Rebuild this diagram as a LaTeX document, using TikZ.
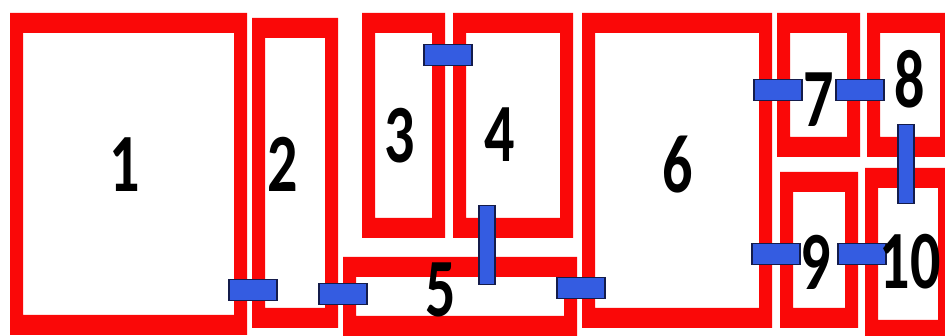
\documentclass[tikz,border=0pt]{standalone}
\usepackage{fontspec}
\setmainfont{Carlito}
\usepackage{tikz}

\definecolor{wallred}{RGB}{250,8,8}
\definecolor{doorblue}{RGB}{52,92,225}
\definecolor{doorline}{RGB}{20,28,75}

% one room: outer corner, inner corner is 13 in and 20 down
\newcommand{\drawroom}[4]{%
  \fill[wall, even odd rule] (#1,#2) rectangle (#3,#4)
    (#1+13,#2+20) rectangle (#3-13,#4-20);
}

\begin{document}
\begin{tikzpicture}[
	x=1pt, y=-1pt,
	wall/.style={fill=wallred},
	door/.style={
		rectangle, fill=doorblue,
		draw=doorline, line width=1.5pt,
		inner sep=0pt,
		minimum width=48pt, minimum height=21pt
	},
	vdoor/.style={door, minimum width=16pt, minimum height=79pt},
	lbl/.style={
		inner sep=0pt,
		font=\fontsize{60}{60}\selectfont\bfseries,
		yscale=1.38
	}
]
\clip (0,0) rectangle (945,336);
\fill[white] (0,0) rectangle (945,336);

% rooms
\drawroom{10}{13}{247}{335}
\drawroom{252}{18}{338}{328}
\drawroom{362}{13}{445}{238}
\drawroom{453}{13}{573}{238}
\drawroom{343}{257}{577}{336}
\drawroom{582}{13}{772}{328}
\drawroom{777}{13}{860}{157}
\drawroom{867}{13}{953}{157}
\drawroom{780}{172}{858}{328}
\drawroom{865}{168}{951}{340}

% doors
\node[door] (d12) at (253,290) {};
\node[door] (d25) at (343,294) {};
\node[door] (d34) at (448,55) {};
\node[vdoor] (d45) at (487,245) {};
\node[door] (d56) at (581,288) {};
\node[door] (d67) at (778,90) {};
\node[door] (d78) at (860,90) {};
\node[vdoor] (d810) at (906,164) {};
\node[door] (d69) at (776,254) {};
\node[door] (d910) at (862,254) {};

% room numbers
\node[lbl] (n1) at (125,165) {1};
\node[lbl] (n2) at (283,164) {2};
\node[lbl] (n3) at (400,136) {3};
\node[lbl] (n4) at (500,135) {4};
\node[lbl] (n5) at (441,290) {5};
\node[lbl] (n6) at (678,165) {6};
\node[lbl] (n7) at (819,100) {7};
\node[lbl] (n8) at (910,79) {8};
\node[lbl] (n9) at (816,262) {9};
\node[lbl] (n10) at (910,262) {10};
\end{tikzpicture}
\end{document}
